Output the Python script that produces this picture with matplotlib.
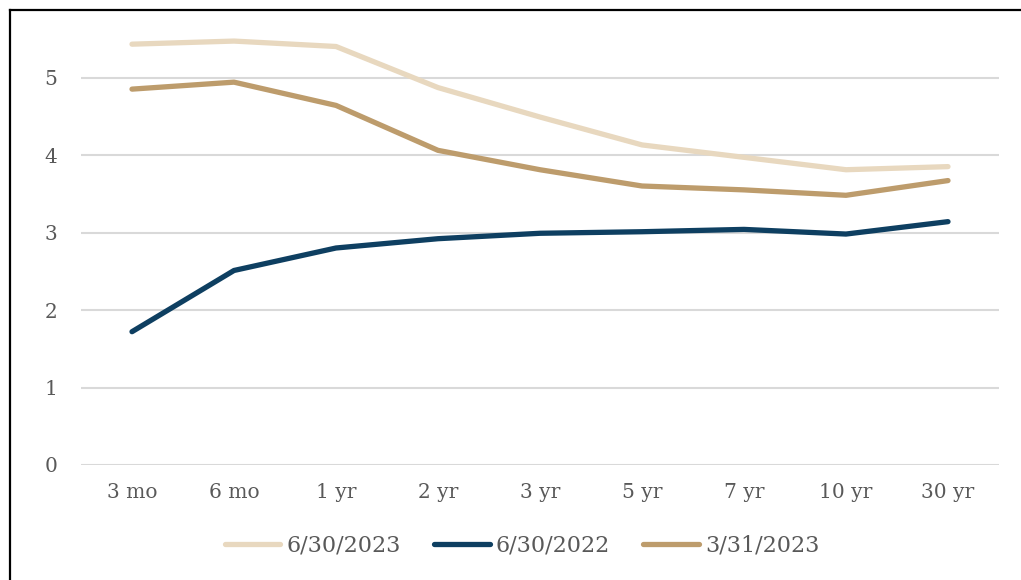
import matplotlib
matplotlib.use("Agg")
import matplotlib.pyplot as plt
from matplotlib.lines import Line2D

categories = ["3 mo", "6 mo", "1 yr", "2 yr", "3 yr", "5 yr", "7 yr", "10 yr", "30 yr"]
s_2023_06 = [5.43, 5.47, 5.40, 4.87, 4.49, 4.13, 3.97, 3.81, 3.85]
s_2022_06 = [1.72, 2.51, 2.80, 2.92, 2.99, 3.01, 3.04, 2.98, 3.14]
s_2023_03 = [4.85, 4.94, 4.64, 4.06, 3.81, 3.60, 3.55, 3.48, 3.67]
series_names = ["6/30/2023", "6/30/2022", "3/31/2023"]
yticks = [0, 1, 2, 3, 4, 5]

colors = ["#E8D8BF", "#0E3F61", "#BD9C6C"]
W, H = 1021, 580
fig = plt.figure(figsize=(W / 100, H / 100), dpi=100)
ax = fig.add_axes([81 / W, 1 - 465 / H, (999 - 81) / W, (465 - 25) / H])

x = list(range(len(categories)))
for vals, name, c in zip([s_2023_06, s_2022_06, s_2023_03], series_names, colors):
    ax.plot(x, vals, color=c, lw=3.8, solid_capstyle="round", solid_joinstyle="round", label=name, zorder=3)

ax.set_xlim(-0.5, len(categories) - 0.5)
ax.set_ylim(0, 440 / 77.5)
ax.set_yticks(yticks)
ax.set_xticks(x)
ax.set_xticklabels(categories)
ax.grid(axis="y", color="#D9D9D9", lw=1.5)
ax.set_axisbelow(True)
for sp in ax.spines.values():
    sp.set_visible(False)
ax.tick_params(length=0, labelsize=14.5, colors="#595959", pad=13)
ax.tick_params(axis="y", pad=17)
for lab in ax.get_xticklabels() + ax.get_yticklabels():
    lab.set_family("DejaVu Serif")

leg = fig.legend(loc="center", bbox_to_anchor=(522 / W, 1 - 546 / H), ncol=3, frameon=False,
                 prop={"family": "DejaVu Serif", "size": 16}, handlelength=2.5,
                 handletextpad=0.27, columnspacing=1.5)
for t in leg.get_texts():
    t.set_color("#595959")

# outer border (top and left visible)
fig.add_artist(Line2D([9.5 / W, 1], [1 - 9.5 / H, 1 - 9.5 / H], transform=fig.transFigure, color="black", lw=1.6))
fig.add_artist(Line2D([9.5 / W, 9.5 / W], [0, 1 - 9.5 / H], transform=fig.transFigure, color="black", lw=1.6))

fig.savefig("out.png", dpi=100)
